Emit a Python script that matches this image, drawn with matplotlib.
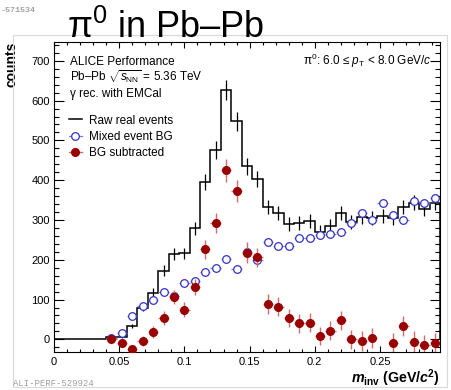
import matplotlib
matplotlib.use('Agg')
import matplotlib.pyplot as plt
import numpy as np
from matplotlib.lines import Line2D
from matplotlib.ticker import MultipleLocator

plt.rcParams['font.family'] = ['Liberation Sans', 'DejaVu Sans']
plt.rcParams['mathtext.fontset'] = 'custom'
plt.rcParams['mathtext.rm'] = 'Liberation Sans'
plt.rcParams['mathtext.it'] = 'Liberation Sans:italic'
plt.rcParams['mathtext.bf'] = 'Liberation Sans:bold'
plt.rcParams['mathtext.bfit'] = 'Liberation Sans:italic:bold'
plt.rcParams['mathtext.default'] = 'regular'

# invariant mass binning (GeV/c^2)
bin_width = 0.008
edges = np.round(np.arange(0, 0.2961, bin_width), 3)

# same-event pairs, all bins from 0
raw_counts = [0, 0, 0, 0, 0,
              5, 7, 34, 79, 117, 173, 215, 216, 279, 396, 476, 626, 548, 435, 404, 332,
              317, 290, 292, 298, 270, 285, 317, 295, 308, 304, 310, 304, 332, 343, 327, 343]

# mixed-event background and subtracted signal, bins from 0.040
first_bin = 5
mixed_bg = [3, 17, 58, 84, 99, 120, 108, 141, 147, 170, 180, 202, 176, 220, 199, 245,
            234, 234, 254, 254, 262, 265, 270, 293, 317, 301, 343, 312, 300, 348, 343, 354]
bg_sub = [2, -10, -24, -5, 18, 53, 107, 75, 132, 226, 293, 425, 373, 218, 206, 89,
          82, 53, 40, 42, 8, 22, 48, 0, -5, 3, -33, -9, 33, -6, -15, -10]

y_min, y_max = -31, 748
x_max = 0.296

blue = '#3232c8'
blue_err = '#7a7ad8'
red = '#9a0000'
red_err = '#d46a6a'

raw_counts = np.array(raw_counts, dtype=float)
mixed_bg = np.array(mixed_bg, dtype=float)
bg_sub = np.array(bg_sub, dtype=float)
centers = (edges[:-1] + edges[1:]) / 2
c_sig = centers[first_bin:]
raw_sig = raw_counts[first_bin:]

fig = plt.figure(figsize=(4.52, 3.90), dpi=100)
ax = fig.add_axes([54 / 452, 1 - 351.7 / 390, 386 / 452, 310 / 390])

# raw distribution as a step histogram with poisson errors
ax.stairs(raw_counts, edges, color='black', lw=1.1, zorder=2)
ax.errorbar(c_sig, raw_sig, yerr=np.sqrt(raw_sig), fmt='none', ecolor='black',
            elinewidth=0.9, zorder=2)

ax.errorbar(c_sig, mixed_bg, xerr=bin_width / 2, yerr=5, fmt='o', ms=5.5, mfc='white',
            mec=blue, mew=0.9, ecolor=blue_err, elinewidth=0.9, zorder=3)

# points below the frame are not drawn at all
inside = bg_sub > y_min
sub_err = np.sqrt(raw_sig + mixed_bg)
ax.errorbar(c_sig[inside], bg_sub[inside], xerr=bin_width / 2, yerr=sub_err[inside],
            fmt='o', ms=5.5, color=red, ecolor=red_err, elinewidth=1.0, zorder=4)

ax.set_xlim(0, x_max)
ax.set_ylim(y_min, y_max)
ax.xaxis.set_major_locator(MultipleLocator(0.05))
ax.xaxis.set_minor_locator(MultipleLocator(0.01))
ax.yaxis.set_major_locator(MultipleLocator(100))
ax.yaxis.set_minor_locator(MultipleLocator(20))
ax.set_xticks([0, 0.05, 0.1, 0.15, 0.2, 0.25])
ax.set_xticklabels(['0', '0.05', '0.1', '0.15', '0.2', '0.25'])
ax.tick_params(axis='both', which='both', direction='in', top=True, right=True,
               labelsize=8, width=0.8)
ax.tick_params(axis='x', which='major', length=4.5, pad=3.6)
ax.tick_params(axis='x', which='minor', length=2.5)
ax.tick_params(axis='y', which='major', length=7, pad=3)
ax.tick_params(axis='y', which='minor', length=3.6)
for s in ax.spines.values():
    s.set_linewidth(0.8)

ax.set_ylabel('counts', loc='top', fontsize=10, fontweight='bold')
ax.yaxis.set_label_coords(-0.092, 1.0)
ax.set_xlabel(r'$\mathbfit{m}_{\mathbf{inv}}$ (GeV/$\mathbfit{c}^{\mathbf{2}}$)', loc='right',
              fontsize=10.3, fontweight='bold')
ax.xaxis.set_label_coords(1.0, -0.052)

ax.text(0.041, 0.925, 'ALICE Performance', transform=ax.transAxes, fontsize=8.5)
ax.text(0.041, 0.873, r'Pb–Pb $\sqrt{\mathit{s}_{\rm NN}}$ = 5.36 TeV', transform=ax.transAxes,
        fontsize=8.5)
ax.text(0.041, 0.822, 'γ rec. with EMCal', transform=ax.transAxes, fontsize=8.5)
ax.text(0.979, 0.925, r'$\pi^{0}$: 6.0 ≤ $\mathit{p}_{\rm T}$ < 8.0 GeV/$\mathit{c}$',
        transform=ax.transAxes, ha='right', fontsize=8.5)

handles = [
    Line2D([], [], color='black', lw=1.1),
    Line2D([], [], color=blue_err, lw=0.9, marker='o', ms=5.5, mfc='white', mec=blue, mew=0.9),
    Line2D([], [], color=red_err, lw=1.0, marker='o', ms=5.5, mfc=red, mec=red),
]
labels = ['Raw real events', 'Mixed event BG', 'BG subtracted']
ax.legend(handles, labels, loc='upper left', bbox_to_anchor=(0.038, 0.765), frameon=False,
          fontsize=8.5, handlelength=1.15, handletextpad=0.55, labelspacing=0.37,
          borderpad=0, borderaxespad=0)

fig.text(166 / 452, 1 - 38 / 390, r'$\pi^{0}$ in Pb–Pb', ha='center', va='baseline', fontsize=26)

# tags and border of the pad
fig.text(0.5 / 452, 1 - 10 / 390, '-571534', ha='left', va='center', fontsize=6,
         family='Liberation Mono', color='#a0a0a0', fontweight='bold')
fig.text(13 / 452, 1 - 383 / 390, 'ALI-PERF-529924', ha='left', va='center', fontsize=6.5,
         family='Liberation Mono', color='#a0a0a0')
fig.add_artist(plt.Rectangle((13 / 452, 1 - 387 / 390), 434 / 452, 352 / 390,
                             transform=fig.transFigure, fill=False, ec='#d8d8d8', lw=0.8))

fig.savefig('out.png', dpi=100)
